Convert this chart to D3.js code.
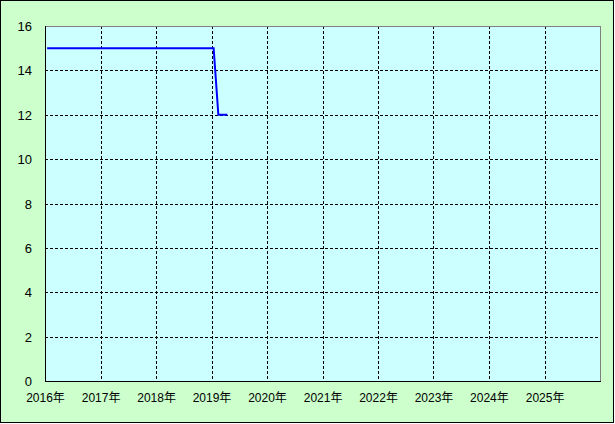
<!DOCTYPE html>
<html><head><meta charset="utf-8">
<script src="https://cdn.jsdelivr.net/npm/d3@7"></script>
<style>
html,body{margin:0;padding:0;background:#fff;}
svg{display:block;}
text{font-family:"Liberation Sans","Noto Sans CJK JP",sans-serif;font-size:12px;fill:#000;}
</style></head>
<body>
<script>
// Monthly values (plotted mid-month)
const months = ["2016-01","2016-02","2016-03","2016-04","2016-05","2016-06","2016-07","2016-08","2016-09","2016-10","2016-11","2016-12",
"2017-01","2017-02","2017-03","2017-04","2017-05","2017-06","2017-07","2017-08","2017-09","2017-10","2017-11","2017-12",
"2018-01","2018-02","2018-03","2018-04","2018-05","2018-06","2018-07","2018-08","2018-09","2018-10","2018-11","2018-12",
"2019-01","2019-02","2019-03","2019-04"];
const values = [15,15,15,15,15,15,15,15,15,15,15,15,
15,15,15,15,15,15,15,15,15,15,15,15,
15,15,15,15,15,15,15,15,15,15,15,15,
15,12,12,12];
const yearTicks = [2016,2017,2018,2019,2020,2021,2022,2023,2024,2025];
const yearLabels = ["2016年","2017年","2018年","2019年","2020年","2021年","2022年","2023年","2024年","2025年"];
const yTicks = [0,2,4,6,8,10,12,14,16];

const W = 615, H = 424;
const mLeft = 45, mRight = 600, mTop = 26, mBottom = 381;

const svg = d3.select("body").append("svg").attr("width", W).attr("height", H);
svg.append("rect").attr("x",0.5).attr("y",0.5).attr("width",W-2).attr("height",H-2)
  .attr("fill","#ccffcc").attr("stroke","#000");

const x = d3.scaleTime().domain([new Date(2016,0,1), new Date(2026,0,1)]).range([mLeft, mRight]);
const y = d3.scaleLinear().domain([0,16]).range([mBottom, mTop]);

svg.append("rect").attr("x",mLeft).attr("y",mTop).attr("width",mRight-mLeft).attr("height",mBottom-mTop).attr("fill","#ccffff");

// grid
svg.append("g").selectAll("line").data(yTicks.filter(d=>d>0 && d<16)).join("line")
  .attr("x1",mLeft).attr("x2",mRight).attr("y1",d=>Math.round(y(d))+0.5).attr("y2",d=>Math.round(y(d))+0.5)
  .attr("stroke","#000").attr("stroke-dasharray","3,2").attr("shape-rendering","crispEdges");
svg.append("g").selectAll("line").data(yearTicks.filter(d=>d>2016)).join("line")
  .attr("x1",d=>Math.round(x(new Date(d,0,1)))+0.5).attr("x2",d=>Math.round(x(new Date(d,0,1)))+0.5)
  .attr("y1",mTop).attr("y2",mBottom)
  .attr("stroke","#000").attr("stroke-dasharray","3,2").attr("shape-rendering","crispEdges");

// plot border
svg.append("line").attr("x1",mLeft).attr("x2",mRight+0.5).attr("y1",mTop+0.5).attr("y2",mTop+0.5).attr("stroke","#808080").attr("shape-rendering","crispEdges");
svg.append("line").attr("x1",mRight+0.5).attr("x2",mRight+0.5).attr("y1",mTop).attr("y2",mBottom).attr("stroke","#808080").attr("shape-rendering","crispEdges");
svg.append("line").attr("x1",mLeft+0.5).attr("x2",mLeft+0.5).attr("y1",mTop).attr("y2",mBottom+0.5).attr("stroke","#000").attr("shape-rendering","crispEdges");
svg.append("line").attr("x1",mLeft).attr("x2",mRight+1).attr("y1",mBottom+0.5).attr("y2",mBottom+0.5).attr("stroke","#000").attr("shape-rendering","crispEdges");

// axes labels
const yAxis = d3.axisLeft(y).tickValues(yTicks).tickSize(0).tickPadding(13);
const gy = svg.append("g").attr("transform",`translate(${mLeft},0)`).call(yAxis);
gy.select(".domain").remove();
gy.selectAll("text").style("font-family",'"Liberation Sans","Noto Sans CJK JP",sans-serif').style("font-size","13px").attr("dy","0.35em");

const xAxis = d3.axisBottom(x).tickValues(yearTicks.map(d=>new Date(d,0,1)))
  .tickFormat((d,i)=>yearLabels[i]).tickSize(0).tickPadding(12);
const gx = svg.append("g").attr("transform",`translate(0,${mBottom})`).call(xAxis);
gx.select(".domain").remove();
gx.selectAll("text").style("font-family",'"Liberation Sans","Noto Sans CJK JP",sans-serif').style("font-size","12px");

// line
const parse = d3.timeParse("%Y-%m");
const data = months.map((m,i)=>{const d=parse(m); return {date:new Date(d.getFullYear(), d.getMonth(), 15), v:values[i]};});
svg.append("path").datum(data)
  .attr("fill","none").attr("stroke","#0000ff").attr("stroke-width",2)
  .attr("d", d3.line().x(d=>x(d.date)).y(d=>y(d.v)));
</script>
</body></html>
